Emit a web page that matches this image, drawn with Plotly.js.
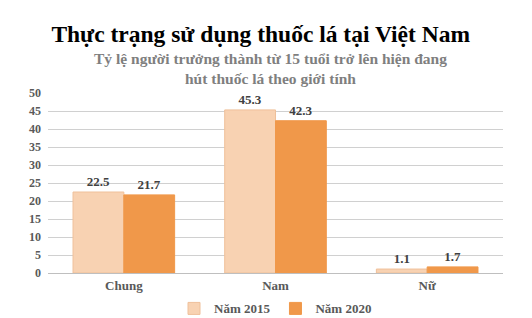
<!DOCTYPE html>
<html><head><meta charset="utf-8">
<script src="https://cdn.plot.ly/plotly-3.0.1.min.js"></script>
<style>body{margin:0;background:#fff}#c{width:532px;height:318px}</style>
</head><body><div id="c"></div>
<script>
const categories = ["Chung", "Nam", "Nữ"];
const series2015 = [22.5, 45.3, 1.1];
const series2020 = [21.7, 42.3, 1.7];
const seriesNames = ["Năm 2015", "Năm 2020"];
const yTicks = [0,5,10,15,20,25,30,35,40,45,50];

const serif = "Liberation Serif, Times New Roman, serif";
const mk = (y, name, color, line) => ({
  type: "bar", x: categories, y: y, name: name,
  marker: {color: color, line: {color: line, width: 1}},
  text: y.map(v => "<b>" + v.toFixed(1) + "</b>"), textposition: "outside", cliponaxis: false,
  textfont: {family: serif, size: 13, color: "#404040"}
});
const data = [
  mk(series2015, seriesNames[0], "#F8D2B2", "#EFC09A"),
  mk(series2020, seriesNames[1], "#F0984A", "#F0984A")
];
const layout = {
  width: 532, height: 318,
  margin: {l: 48, r: 29, t: 93, b: 45, autoexpand: false},
  paper_bgcolor: "#fff", plot_bgcolor: "#fff",
  barmode: "group", bargap: 0.33, bargroupgap: 0,
  font: {family: serif, color: "#595959"},
  title: {text: "<b>Thực trạng sử dụng thuốc lá tại Việt Nam</b>", x: 0.49, xanchor: "center",
    y: 0.893, yanchor: "middle", font: {family: serif, size: 23.5, color: "#000"}},
  annotations: [{
    xref: "paper", yref: "paper", x: 0.49, y: 1.135, xanchor: "center", yanchor: "middle",
    showarrow: false, align: "center",
    text: "<b>Tỷ lệ người trưởng thành từ 15 tuổi trở lên hiện đang<br>hút thuốc lá theo giới tính</b>",
    font: {family: serif, size: 15.5, color: "#7F7F7F"}
  }],
  xaxis: {tickfont: {family: serif, size: 13, color: "#595959", weight: "bold"}, showline: true,
    linecolor: "#BFBFBF", ticks: "", automargin: false},
  yaxis: {range: [0, 50], tickvals: yTicks, ticktext: yTicks.map(String), automargin: false,
    tickfont: {family: serif, size: 12, color: "#595959", weight: "bold"}, gridcolor: "#D0D0D0",
    zeroline: true, zerolinecolor: "#BFBFBF", showline: false, ticklabelstandoff: 6},
  legend: {orientation: "h", x: 0.5, xanchor: "center", yref: "container", y: 0.03, yanchor: "middle",
    font: {family: serif, size: 13, color: "#595959", weight: "bold"}, itemwidth: 30,
    tracegroupgap: 0}
};
Plotly.newPlot("c", data, layout, {displayModeBar: false, staticPlot: true});
</script></body></html>
